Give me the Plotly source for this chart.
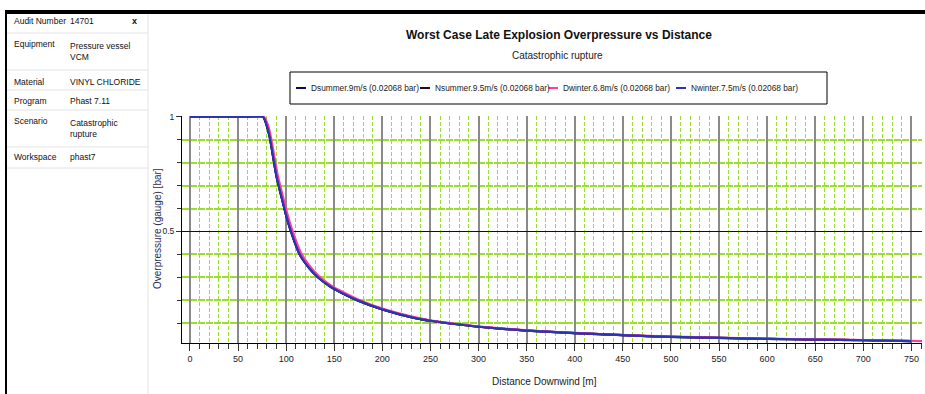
import plotly.graph_objects as go

# ---------------- data ----------------
distance = [0, 20, 40, 60, 76, 80, 83, 90, 97, 100, 105, 114, 123, 133, 145, 156,
            175, 200, 232, 250, 275, 300, 350, 400, 450, 500, 550, 600, 650, 700, 750]
dsummer = [1.0, 1.0, 1.0, 1.0, 1.0, 0.96, 0.91, 0.74, 0.62, 0.57, 0.50, 0.40, 0.345, 0.30, 0.262, 0.236,
           0.198, 0.160, 0.124, 0.110, 0.096, 0.084, 0.067, 0.056, 0.047, 0.040, 0.035, 0.031, 0.028, 0.025, 0.021]
nsummer = [1.0, 1.0, 1.0, 1.0, 1.0, 0.96, 0.91, 0.74, 0.62, 0.57, 0.50, 0.40, 0.345, 0.30, 0.262, 0.236,
           0.198, 0.160, 0.124, 0.110, 0.096, 0.084, 0.067, 0.056, 0.047, 0.040, 0.035, 0.031, 0.028, 0.025, 0.021]
distance_dw = [0, 20, 40, 60, 77, 81, 84, 91, 98, 101, 106, 115, 124, 134, 146, 157,
               176, 201, 233, 251, 276, 301, 351, 401, 451, 501, 551, 601, 651, 701, 751, 762]
dwinter = [1.0, 1.0, 1.0, 1.0, 1.0, 0.965, 0.915, 0.75, 0.63, 0.58, 0.51, 0.41, 0.352, 0.305, 0.266, 0.240,
           0.201, 0.162, 0.126, 0.111, 0.097, 0.085, 0.068, 0.057, 0.048, 0.041, 0.036, 0.032, 0.029, 0.026, 0.022, 0.021]
nwinter = [1.0, 1.0, 1.0, 1.0, 1.0, 0.96, 0.91, 0.74, 0.62, 0.57, 0.50, 0.40, 0.345, 0.30, 0.262, 0.236,
           0.198, 0.160, 0.124, 0.110, 0.096, 0.084, 0.067, 0.056, 0.047, 0.040, 0.035, 0.031, 0.028, 0.025, 0.021]

series_names = ["Dsummer.9m/s (0.02068 bar)", "Nsummer.9.5m/s (0.02068 bar)",
                "Dwinter.6.8m/s (0.02068 bar)", "Nwinter.7.5m/s (0.02068 bar)"]
series_colors = ["#0b0b55", "#2a0a18", "#ff3fa0", "#2a35b5"]

panel_labels = ["Audit Number", "Equipment", "Material", "Program", "Scenario", "Workspace"]
panel_values = ["14701", "Pressure vessel<br>VCM", "VINYL CHLORIDE", "Phast 7.11",
                "Catastrophic<br>rupture", "phast7"]

title_text = "Worst Case Late Explosion Overpressure vs Distance"
subtitle_text = "Catastrophic rupture"
x_title = "Distance Downwind [m]"
y_title = "Overpressure (gauge) [bar]"

# ---------------- figure ----------------
W, H = 925, 394
FONT = "Liberation Sans, Arial, sans-serif"


def px(x):
    return x / W


def py(y):
    return 1 - y / H


fig = go.Figure()
xs = [distance, distance, distance_dw, distance]
ys = [dsummer, nsummer, dwinter, nwinter]
for i in range(4):
    fig.add_trace(go.Scatter(x=xs[i], y=ys[i], mode="lines", name=series_names[i], showlegend=False,
                             line=dict(color=series_colors[i], width=2.2, shape="spline", smoothing=0.6)))

grid_green = "#9cdd34"
fig.update_layout(
    width=W, height=H,
    margin=dict(l=0, r=0, t=0, b=0),
    paper_bgcolor="white", plot_bgcolor="white",
    font=dict(family=FONT, size=9, color="#222"),
    showlegend=False,
    xaxis=dict(domain=[px(182), px(922)], range=[-8.3, 761], dtick=50, tick0=0, automargin=False,
               showgrid=True, gridcolor="#8a8a8a", gridwidth=2,
               showline=True, linecolor="black", linewidth=1,
               ticks="outside", ticklen=7, tickcolor="#333", tickwidth=1,
               tickfont=dict(family=FONT, size=9, color="#222"), zeroline=False,
               minor=dict(dtick=10, tick0=0, showgrid=True, gridcolor=grid_green, griddash="4px,2px",
                          gridwidth=1.3, ticks="outside", ticklen=5, tickcolor="#333")),
    yaxis=dict(domain=[py(343), py(116)], range=[0.013, 1.004], dtick=0.5, tick0=0, automargin=False,
               showgrid=True, gridcolor="#111", gridwidth=1,
               showline=True, linecolor="black", linewidth=1,
               ticks="outside", ticklen=5, tickcolor="#333",
               tickfont=dict(family=FONT, size=8.5, color="#222"), zeroline=False,
               minor=dict(dtick=0.1, tick0=0, showgrid=True, gridcolor=grid_green, griddash="7px,1px",
                          gridwidth=1.5, ticks="outside", ticklen=4, tickcolor="#333")),
)

shapes = []
# top black bar and left border
shapes.append(dict(type="rect", xref="paper", yref="paper", x0=px(5), x1=px(925), y0=py(14), y1=py(10),
                   fillcolor="black", line=dict(width=0), layer="above"))
shapes.append(dict(type="line", xref="paper", yref="paper", x0=px(6), x1=px(6), y0=py(12), y1=py(394),
                   line=dict(color="black", width=2)))
shapes.append(dict(type="line", xref="paper", yref="paper", x0=px(148), x1=px(148), y0=py(14), y1=py(394),
                   line=dict(color="#e4e4e4", width=1)))
# panel row separators
for yy in [33, 70, 90, 110, 147, 168]:
    shapes.append(dict(type="line", xref="paper", yref="paper", x0=px(7), x1=px(148), y0=py(yy), y1=py(yy),
                       line=dict(color="#e2e2e2", width=1)))
# legend box
shapes.append(dict(type="rect", xref="paper", yref="paper", x0=px(290), x1=px(827), y0=py(104), y1=py(72),
                   line=dict(color="black", width=1), fillcolor="rgba(0,0,0,0)"))
# legend line samples
legend_x = [296, 420, 548, 676]
LEG_Y = 88
for lx, col in zip(legend_x, series_colors):
    shapes.append(dict(type="line", xref="paper", yref="paper", x0=px(lx), x1=px(lx + 10), y0=py(LEG_Y), y1=py(LEG_Y),
                       line=dict(color=col, width=2)))
fig.update_layout(shapes=shapes)

ann = []
ann.append(dict(text="<b>" + title_text + "</b>", x=px(559), y=py(35), xref="paper", yref="paper",
                showarrow=False, font=dict(family=FONT, size=12, color="#111"), xanchor="center", yanchor="middle"))
ann.append(dict(text=subtitle_text, x=px(557), y=py(55), xref="paper", yref="paper",
                showarrow=False, font=dict(family=FONT, size=10, color="#222"), xanchor="center", yanchor="middle"))
ann.append(dict(text=x_title, x=px(544), y=py(381), xref="paper", yref="paper",
                showarrow=False, font=dict(family=FONT, size=10, color="#222"), xanchor="center", yanchor="middle"))
ann.append(dict(text=y_title, x=px(157), y=py(229), xref="paper", yref="paper", textangle=-90,
                showarrow=False, font=dict(family=FONT, size=10, color="#2b2b55"),
                xanchor="center", yanchor="middle"))
for lx, name in zip(legend_x, series_names):
    ann.append(dict(text=name, x=px(lx + 13), y=py(LEG_Y), xref="paper", yref="paper", showarrow=False,
                    font=dict(family=FONT, size=8.3, color="#222"), xanchor="left", yanchor="middle"))
# left info panel
label_y = [21, 44, 82, 101, 121, 157]
value_y = [21, 52, 82, 101, 129, 157]
for lab, val, ly, vy in zip(panel_labels, panel_values, label_y, value_y):
    ann.append(dict(text=lab, x=px(12), y=py(ly), xref="paper", yref="paper", showarrow=False,
                    font=dict(family=FONT, size=8.5, color="#111"), xanchor="left", yanchor="middle"))
    ann.append(dict(text=val, x=px(68), y=py(vy), xref="paper", yref="paper", showarrow=False, align="left",
                    font=dict(family=FONT, size=8.5, color="#111"), xanchor="left", yanchor="middle"))
ann.append(dict(text="<b>x</b>", x=px(134), y=py(21), xref="paper", yref="paper", showarrow=False,
                font=dict(family=FONT, size=9, color="#111"), xanchor="center", yanchor="middle"))
fig.update_layout(annotations=ann)

fig.write_html("out.html", config={"displayModeBar": False},
               post_script="document.body.style.margin='0px';document.body.style.overflow='hidden';")
